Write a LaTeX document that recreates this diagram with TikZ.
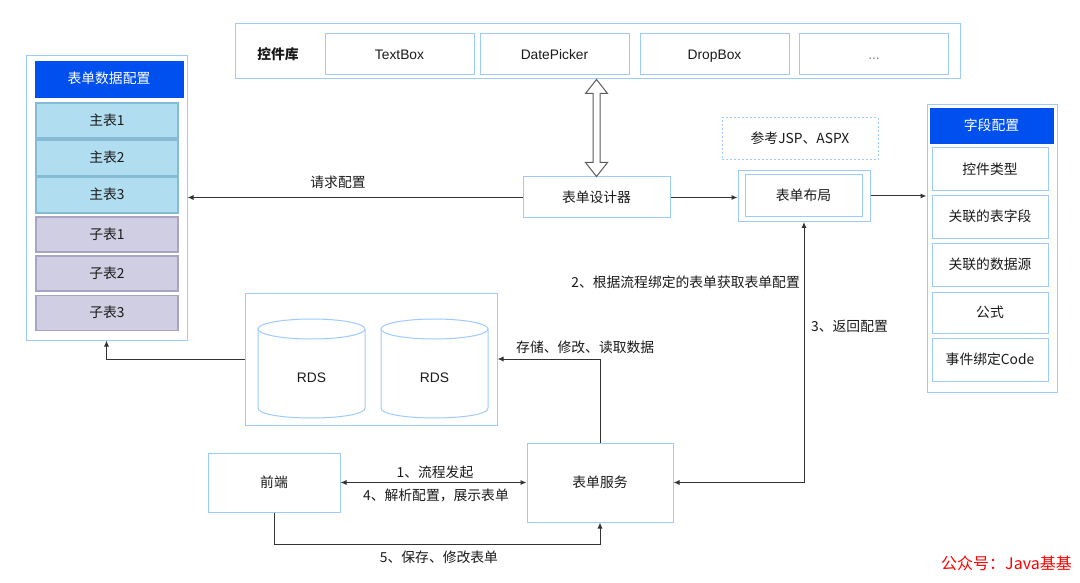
\documentclass[tikz,border=0pt]{standalone}
\usepackage{fontspec}
\setmainfont{Noto Sans CJK SC}
\newfontfamily\lat{Liberation Sans}
\usetikzlibrary{arrows.meta,calc}
\definecolor{lb}{HTML}{9ECBFF}
\definecolor{hdr}{HTML}{0050EF}
\definecolor{mainfill}{HTML}{B1DDF0}
\definecolor{mainborder}{HTML}{86BCD3}
\definecolor{subfill}{HTML}{D0CEE2}
\definecolor{subborder}{HTML}{A8A4C3}
\definecolor{ln}{HTML}{333333}
\definecolor{txt}{HTML}{1A1A1A}
\newcommand{\fs}{\fontsize{13.8}{16}\selectfont}
\begin{document}
\begin{tikzpicture}[x=1pt,y=-1pt,
  box/.style={draw=lb, line width=1pt, fill=white, inner sep=0pt, text=txt, font=\fs, text height=11pt, text depth=1.5pt},
  hdrbox/.style={draw=hdr, fill=hdr, inner sep=0pt, text=white, font=\fs, text height=11pt, text depth=1.5pt},
  mainbox/.style={draw=mainborder, line width=1.2pt, fill=mainfill, inner sep=0pt, text=txt, font=\fs, minimum width=142pt, text height=11pt, text depth=1.5pt},
  subbox/.style={draw=subborder, line width=1.2pt, fill=subfill, inner sep=0pt, text=txt, font=\fs, minimum width=142pt, text height=11pt, text depth=1.5pt},
  fieldbox/.style={box, minimum width=116pt, minimum height=43pt},
  ctlbox/.style={box, minimum width=149pt, minimum height=41pt, font=\fs\lat},
  lbl/.style={inner sep=1pt, text=txt, font=\fs},
  conn/.style={draw=ln, line width=1pt},
  arr/.style={conn, -{Latex[length=6pt,width=5pt]}},
  darr/.style={conn, {Latex[length=6pt,width=5pt]}-{Latex[length=6pt,width=5pt]}}
]
\useasboundingbox[fill=white] (0,0) rectangle (1080,583);

% ---- left: form data config ----
\node[box, minimum width=161pt, minimum height=284pt] (left) at (106.5,198) {};
\node[hdrbox, minimum width=148pt, minimum height=36pt] (lhdr) at (109,79) {表单数据配置};
\node[mainbox, minimum height=35pt] (m1) at (107,120.5) {主表1};
\node[mainbox, minimum height=36pt] (m2) at (107,158) {主表2};
\node[mainbox, minimum height=36pt] (m3) at (107,195) {主表3};
\node[subbox, minimum height=35pt] (s1) at (107,234.5) {子表1};
\node[subbox, minimum height=35pt] (s2) at (107,273.5) {子表2};
\node[subbox, minimum height=35pt] (s3) at (107,313) {子表3};

% ---- top: control library ----
\node[box, minimum width=725pt, minimum height=55pt] (lib) at (597.5,51.5) {};
\node[lbl, font=\fs\bfseries] (libt) at (278,54) {控件库};
\node[ctlbox] (c1) at (399.5,54.5) {TextBox};
\node[ctlbox] (c2) at (554.5,54.5) {DatePicker};
\node[ctlbox] (c3) at (714.5,54.5) {DropBox};
\node[ctlbox, text=gray] (c4) at (874,54.5) {...};

% ---- designer & layout ----
\node[box, minimum width=147pt, minimum height=41pt] (designer) at (596.5,197.5) {表单设计器};
\node[box, minimum width=132pt, minimum height=51pt] (layout) at (804,196) {};
\node[box, minimum width=117pt, minimum height=42pt] (layoutin) at (803.5,196) {表单布局};
\node[box, dash pattern=on 2pt off 2pt, minimum width=156pt, minimum height=42pt] (ref) at (800,139) {参考JSP、ASPX};

% ---- right: field config ----
\node[box, minimum width=130pt, minimum height=287pt] (field) at (992,248.5) {};
\node[hdrbox, minimum width=123pt, minimum height=35pt] (fhdr) at (991.5,125.5) {字段配置};
\node[fieldbox] (f1) at (990,169.5) {控件类型};
\node[fieldbox] (f2) at (990,217) {关联的表字段};
\node[fieldbox] (f3) at (990,265) {关联的数据源};
\node[fieldbox, minimum height=41pt] (f4) at (990,312.5) {公式};
\node[fieldbox] (f5) at (990,360) {事件绑定Code};

% ---- RDS ----
\node[box, minimum width=252pt, minimum height=132pt] (rdsbox) at (371,359) {};
\foreach \cx/\nm in {311.5/rdsa, 434.5/rdsb}{
  \draw[lb, line width=1pt, fill=white]
    (\cx-53.5,329) -- (\cx-53.5,408)
    .. controls (\cx-53.5,421.3) and (\cx+53.5,421.3) .. (\cx+53.5,408)
    -- (\cx+53.5,329);
  \draw[lb, line width=1pt, fill=white] (\cx,329) ellipse [x radius=53.5, y radius=10];
  \node[lbl, font=\fs\lat] (\nm) at (\cx,378) {RDS};
}

% ---- bottom ----
\node[box, minimum width=132pt, minimum height=59pt] (fe) at (274,482.5) {前端};
\node[box, minimum width=146pt, minimum height=79pt] (svc) at (600,482.5) {表单服务};

% ---- hollow double arrow ----
\coordinate (ha) at (designer.north |- lib.south);
\coordinate (hb) at (designer.north);
\draw[draw=ln!80, line width=1pt, fill=white, line join=miter]
  (ha) -- ([xshift=-11pt,yshift=-14pt]ha) -- ([xshift=-3.5pt,yshift=-14pt]ha)
  -- ([xshift=-3.5pt,yshift=14pt]hb) -- ([xshift=-11pt,yshift=14pt]hb) -- (hb)
  -- ([xshift=11pt,yshift=14pt]hb) -- ([xshift=3.5pt,yshift=14pt]hb)
  -- ([xshift=3.5pt,yshift=-14pt]ha) -- ([xshift=11pt,yshift=-14pt]ha) -- cycle;

% ---- connectors ----
\draw[arr] (designer.west) -- (designer.west -| left.east);
\node[lbl] (l0) at (338,182) {请求配置};
\draw[arr] (designer.east) -- (designer.east -| layout.west);
\draw[arr] (layout.east) -- (layout.east -| field.west);
\draw[arr] (rdsbox.west) -| (left.south);
\draw[arr] (svc.north) |- (rdsbox.east);
\node[lbl, anchor=west] (l1) at (515,347) {存储、修改、读取数据};
\draw[darr] (fe.east) -- (svc.west);
\node[lbl] (l2) at (435,472) {1、流程发起};
\node[lbl] (l3) at (436,495) {4、解析配置，展示表单};
\coordinate (febot) at ([yshift=-32pt]fe.south);
\draw[arr] (fe.south) -- (febot) -| (svc.south);
\node[lbl] (l4) at (439,557) {5、保存、修改表单};
\draw[darr] (svc.east) -| (layout.south);
\node[lbl, anchor=east] (l5) at (801,282) {2、根据流程绑定的表单获取表单配置};
\node[lbl, anchor=west] (l6) at (810,326) {3、返回配置};

% ---- watermark ----
\node[inner sep=0pt, anchor=east, text=red, font=\fontsize{16}{18}\selectfont] (wm) at (1072,563) {公众号：Java基基};
\end{tikzpicture}
\end{document}
